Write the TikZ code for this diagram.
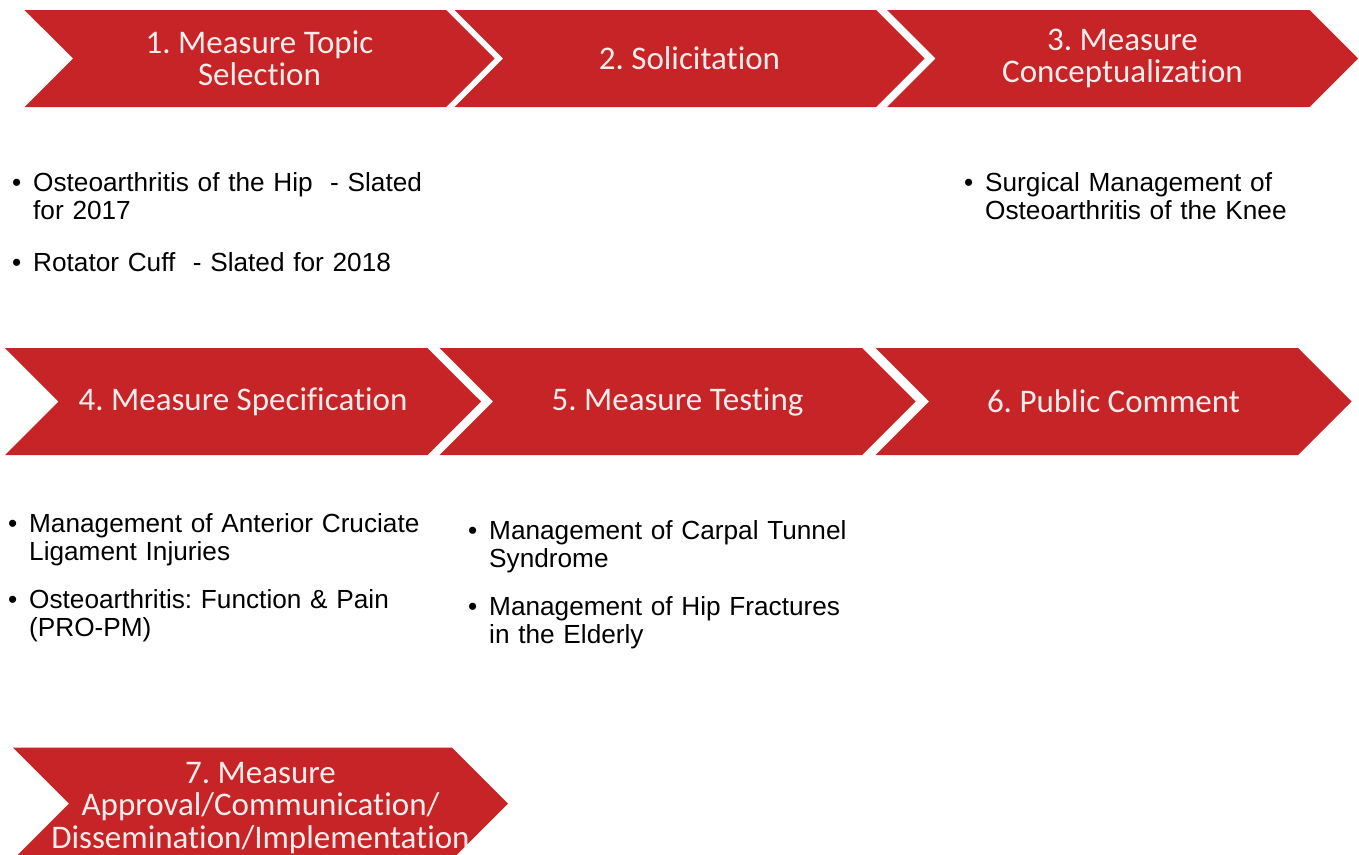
\documentclass[tikz,border=0pt]{standalone}
\usepackage{fontspec}
\setmainfont{Liberation Sans}
\newfontfamily\calibri[Ligatures=NoCommon]{Carlito}
\usepackage{tikz}
\usetikzlibrary{positioning,shapes.symbols}
\definecolor{czerwony}{RGB}{198,36,38}
\definecolor{jasny}{RGB}{252,236,236}
\frenchspacing
%punkt listy, kropka wysunieta w lewo
\newcommand{\wpis}[1]{\noindent\strut\llap{\textbullet\hspace{12pt}}#1\strut}

\begin{document}
\begin{tikzpicture}[x=1pt, y=-1pt]
\tikzset{
    %strzalka etapu
    strzalka/.style={
           signal, signal to=east, signal from=west,
           signal pointer angle=90,
           fill=czerwony, draw=none,
           inner sep=0pt,
           text=jasny,
           font=\calibri\fontsize{33}{32.5}\selectfont,
           align=center},
    %napis na strzalce
    napis/.style={
           inner sep=0pt,
           text=jasny,
           font=\calibri\fontsize{33}{32.5}\selectfont,
           align=center},
    %lista pod strzalka
    lista/.style={
           anchor=north west,
           inner sep=0pt,
           text width=#1,
           align=left,
           font=\fontsize{26.2}{28}\selectfont},
    lista/.default=400pt
}
\useasboundingbox (0,0) rectangle (1359,854);

%Etapy
\node(krok1) [strzalka,minimum width=470pt,minimum height=97pt] at (259.5,58.5)  {1. Measure Topic\\Selection};
\node(krok2) [strzalka,minimum width=470pt,minimum height=97pt] at (689.5,58.5)  {2. Solicitation};
\node(krok3) [strzalka,minimum width=471pt,minimum height=97pt] at (1122.5,58.5) {3. Measure\\Conceptualization};
\node(krok4) [strzalka,minimum width=476pt,minimum height=107pt] at (243,401.5)   {4. Measure Specification};
\node(krok5) [strzalka,minimum width=476pt,minimum height=107pt] at (677.5,401.5) {5. Measure Testing};
\node(krok6) [strzalka,minimum width=476pt,minimum height=107pt] at (1113.5,401.5) {6. Public Comment};
\node(krok7) [strzalka,minimum width=495pt,minimum height=112pt] at (260.5,803.5) {};
\node(opis7) [napis] at ([yshift=-4.5pt]krok7.center) {7. Measure\\Approval/Communication/\\Dissemination/Implementation};

%Listy
\node(hip)      [lista] at (33,171.4)     {\wpis{Osteoarthritis of the Hip\ \ - Slated\\for 2017}};
\node(rotator)  [lista,below=23.5pt of hip] {\wpis{Rotator Cuff\ \ - Slated for 2018}};
\node(knee)     [lista=370pt] at (985,171.4) {\wpis{Surgical Management of\\Osteoarthritis of the Knee}};
\node(acl)      [lista] at (29,513)         {\wpis{Management of Anterior Cruciate\\Ligament Injuries}};
\node(propm)    [lista,below=19.5pt of acl] {\wpis{Osteoarthritis: Function \& Pain\\(PRO-PM)}};
\node(carpal)   [lista=370pt] at (489,519.4) {\wpis{Management of Carpal Tunnel\\Syndrome}};
\node(fracture) [lista=370pt,below=19.5pt of carpal] {\wpis{Management of Hip Fractures\\in the Elderly}};
\end{tikzpicture}
\end{document}
